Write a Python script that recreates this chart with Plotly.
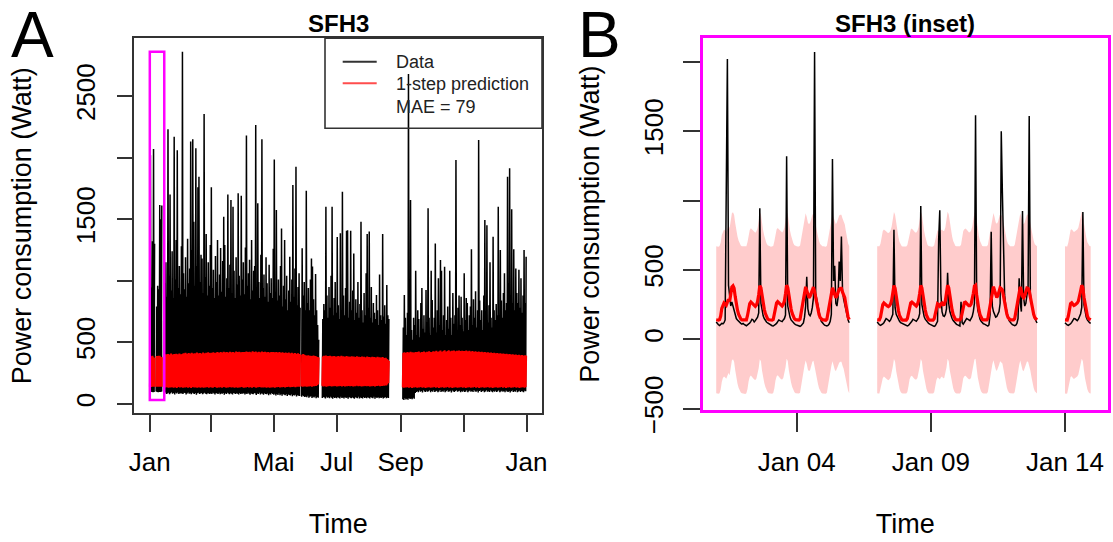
import numpy as np
import pandas as pd
import plotly.graph_objects as go

# ---------------------------------------------------------------------------
# Data
# ---------------------------------------------------------------------------

# Inset window (1-14 Jan 2014): hourly load and 1-step predictions in W.
# A row of None is a day without measurements.
inset_start = "2014-01-01"
inset_load = [
    [125, 110, 105, 100, 108, 115, 112, 120, 140, 1140, 2020, 390, 300, 240, 270, 240, 195, 170, 150, 140, 130, 120, 115, 110],   # 01
    [115, 108, 100, 98, 104, 110, 118, 130, 145, 140, 125, 135, 150, 160, 190, 944, 260, 200, 170, 150, 135, 125, 118, 112],      # 02
    [110, 104, 98, 96, 100, 108, 115, 128, 140, 135, 130, 128, 140, 150, 175, 1320, 240, 190, 160, 140, 128, 120, 112, 106],      # 03
    [104, 100, 95, 94, 98, 106, 118, 160, 240, 450, 220, 180, 170, 190, 230, 300, 2070, 330, 280, 230, 190, 160, 130, 115],       # 04
    [110, 102, 98, 96, 100, 110, 130, 180, 1300, 420, 530, 260, 240, 300, 560, 420, 740, 350, 290, 250, 220, 180, 140, 120],      # 05
    None,                                                                                                                         # 06
    [125, 112, 105, 100, 104, 112, 120, 135, 150, 145, 135, 130, 140, 155, 180, 790, 230, 180, 160, 145, 130, 120, 115, 110],     # 07
    [108, 102, 98, 96, 100, 108, 118, 130, 145, 140, 132, 130, 142, 155, 185, 960, 250, 195, 165, 145, 132, 122, 115, 110],       # 08
    [106, 100, 96, 94, 98, 110, 130, 720, 930, 330, 200, 170, 165, 180, 220, 480, 260, 200, 170, 150, 135, 125, 115, 108],        # 09
    [104, 98, 96, 270, 120, 110, 125, 140, 150, 145, 138, 135, 150, 165, 200, 260, 1615, 300, 210, 170, 145, 130, 120, 112],      # 10
    [110, 104, 98, 96, 104, 180, 775, 240, 200, 170, 160, 165, 180, 200, 260, 1500, 1060, 650, 320, 240, 190, 160, 135, 120],     # 11
    [115, 106, 100, 98, 102, 115, 150, 440, 260, 200, 925, 300, 240, 260, 320, 380, 1610, 330, 260, 210, 175, 150, 130, 118],     # 12
    None,                                                                                                                         # 13
    [120, 110, 104, 100, 104, 112, 122, 135, 150, 148, 140, 135, 145, 160, 185, 230, 917, 250, 190, 160, 140, 128, 120, 115],     # 14
]
inset_pred = [
    [141, 139, 138, 142, 168, 222, 252, 262, 255, 246, 268, 288, 272, 318, 378, 386, 368, 308, 252, 212, 182, 160, 147, 141],
    [140, 138, 137, 141, 172, 228, 258, 270, 262, 250, 240, 238, 248, 272, 322, 386, 372, 304, 254, 216, 186, 162, 148, 141],
    [140, 138, 138, 143, 176, 232, 262, 272, 264, 251, 242, 240, 252, 276, 328, 390, 374, 306, 255, 218, 187, 163, 148, 142],
    [141, 139, 139, 146, 190, 248, 292, 342, 378, 352, 312, 300, 310, 338, 368, 376, 344, 298, 252, 210, 178, 157, 145, 140],
    [140, 138, 138, 145, 188, 246, 290, 338, 372, 350, 312, 300, 314, 340, 362, 368, 368, 340, 318, 300, 250, 198, 160, 142],
    None,
    [141, 139, 140, 160, 205, 250, 262, 258, 248, 240, 236, 242, 256, 284, 335, 388, 368, 300, 248, 208, 172, 150, 141, 139],
    [140, 138, 139, 150, 192, 242, 262, 268, 260, 248, 240, 240, 252, 280, 330, 389, 371, 302, 250, 211, 176, 152, 142, 139],
    [140, 138, 139, 148, 188, 238, 256, 250, 240, 256, 262, 250, 252, 278, 328, 390, 372, 304, 252, 212, 178, 154, 143, 140],
    [140, 139, 140, 152, 200, 250, 264, 268, 262, 250, 242, 242, 254, 282, 330, 384, 390, 320, 256, 214, 178, 154, 143, 140],
    [141, 139, 140, 150, 196, 252, 298, 348, 380, 352, 314, 302, 316, 346, 372, 366, 356, 312, 262, 218, 182, 158, 146, 141],
    [141, 139, 140, 149, 192, 250, 296, 344, 378, 350, 310, 300, 314, 344, 370, 368, 350, 306, 258, 214, 180, 156, 145, 140],
    None,
    [140, 138, 139, 168, 222, 258, 264, 252, 244, 248, 254, 262, 276, 306, 350, 390, 372, 304, 246, 205, 170, 150, 142, 140],
]
PI_HALF_WIDTH = 530   # half-width of the prediction interval, W
MAE = 79

# Rest of the year (15 Jan - 31 Dec 2014): daily extremes in W, None = no data.
year_start = "2014-01-15"
daily_peak = [
    980, 1150, 870, 2230, 1040, 1700, 920, 1240, 860, 2170, 1010, 1330, 2060, 940, 1120, 890, 1280,                    # Jan
    2860, 1060, 930, 1190, 870, 1340, 980, 1100, 2130, 1250, 2150, 1480, 960, 2075, 1120, 1760, 1845, 990, 1210,
    1180, 900, 2355, 1030, 1380, 880, 1150, 960, 1290,                                                                  # Feb
    1760, 940, 1090, 860, 1200, 990, 1330, 880, 1050, 1265, 910, 1160, 1520, 1290, 870, 1020, 1700, 940, 1130, 1655,
    900, 1600, 1080, 860, 1190, 970, 1710, 1040, 880, 1690, 1010,                                                       # Mar
    1150, 890, 1270, 2180, 960, 1060, 1170, 850, 1330, 920, 1080, 1120, 2265, 880, 1630, 990, 860, 1210, 2150, 940,
    1050, 870, 1190, 980, 830, 1130, 900, 1020, 860, 1260,                                                              # Apr
    1985, 910, 1575, 840, 1010, 880, 1120, 1425, 790, 960, 1330, 850, 1040, 760, 920, 1195, 830, 1010, 1777, 870,
    1100, 1926, 800, 950, 1060, 780, None, 1263, 880, 990, 760,                                                         # May
    1730, 820, 940, 760, 1010, 1180, 1115, 850, 720, 1054, 760, 640, 520, None, None, None, 690, 810, 760, 1600,
    880, 700, 950, 780, 1040, 1600, 720, 860, 990, 740,                                                                 # Jun
    1355, 800, 690, 1385, 760, 1723, 880, 720, 940, 1405, 1410, 700, 830, 1405, 760, 920, 1222, 680, 850, 740,
    990, 700, 810, 1480, 760, 660, 900, 720, 1060, 1380, 780,                                                           # Jul
    1400, 700, 950, 660, 820, 740, 690, 885, 760, 640, 1050, 720, 680, 1380, 710, 800, 650, 965, 720, 690,
    None, None, None, None, None, None, None, None, None, None, None,                                                   # Aug
    None, None, 620, 885, 700, 560, 740, 2680, 820, 1655, 600, 520, 700, 640, 1080, 560, 760, 690, 540, 820,
    940, 610, 720, 580, 925, 660, 1588, 700, 560, 1080,                                                                 # Sep
    843, 620, 700, 1303, 580, 760, 1020, 640, 1168, 1080, 600, 720, 1114, 560, 680, 790, 610, 1080, 700, 560,
    900, 650, 720, 1980, 600, 780, 880, 640, 870, 700, 590,                                                             # Oct
    1060, 680, 860, 820, 600, 720, 790, 1255, 640, 850, 700, 915, 620, 760, 2143, 840, 680, 760, 600, 880,
    1493, 720, 1450, 660, 800, 1150, 700, 620, 1357, 760,                                                               # Nov
    680, 810, 720, 1601, 660, 1250, 840, 700, 900, 1060, 760, 820, 1845, 980, 1913, 880, 1580, 820, 1255, 760,
    1100, 900, 820, 1090, 780, 1020, 740, 880, 1250, 820, 1195,                                                         # Dec
]
daily_low = [
    88, 92, 80, 85, 90, 78, 86, 94, 82, 88, 76, 90, 84, 92, 80, 87, 83,
    85, 79, 90, 88, 76, 84, 92, 81, 87, 78, 90, 85, 80, 88, 74, 86, 91, 79, 84, 88, 77, 85, 90, 82, 78, 87, 84, 80,
    86, 79, 90, 83, 76, 88, 84, 80, 91, 77, 85, 82, 88, 74, 86, 80, 90, 83, 78, 87, 81, 76, 89, 84, 79, 86, 82, 75,
    88, 80, 84,
    81, 88, 76, 84, 79, 90, 82, 74, 86, 80, 77, 88, 83, 72, 85, 79, 90, 76, 84, 81, 73, 87, 80, 78, 85, 70, 82, 76,
    88, 79,
    74, 82, 68, 79, 72, 85, 70, 77, 66, 80, 73, 69, 78, 64, 75, 71, 67, 76, 62, 72, 68, 74, 60, 70, 66, 63, None,
    58, 67, 62, 55,
    60, 54, 65, 50, 58, 62, 48, 57, 52, 60, 46, 55, 50, None, None, None, 47, 56, 51, 44, 58, 49, 53, 45, 57, 50,
    42, 54, 48, 52,
    46, 55, 50, 43, 58, 48, 52, 44, 56, 47, 51, 42, 55, 49, 45, 53, 48, 41, 54, 50, 46, 57, 44, 52, 48, 43, 55, 47,
    51, 45, 53,
    49, 44, 56, 50, 46, 58, 42, 53, 48, 55, 45, 51, 47, 54, 43, 50, 56, 46, 52, 48,
    None, None, None, None, None, None, None, None, None, None, None,
    None, None, 38, 32, 45, 36, 41, 34, 48, 39, 44, 37, 50, 42, 88, 96, 102, 94, 108, 99, 104, 92, 110, 100, 96,
    106, 98, 103, 111, 95,
    104, 98, 110, 96, 102, 107, 94, 100, 112, 97, 105, 99, 108, 95, 103, 110, 98, 101, 106, 93, 109, 100, 96, 104,
    111, 98, 102, 107, 95, 103, 99,
    106, 97, 101, 110, 94, 103, 108, 99, 105, 96, 112, 100, 98, 107, 93, 104, 109, 97, 102, 106, 95, 101, 110, 98,
    103, 96, 108, 100, 94, 105,
    99, 107, 96, 103, 110, 94, 101, 106, 98, 104, 95, 109, 100, 97, 105, 93, 102, 108, 96, 103, 99, 110, 94, 101,
    106, 97, 104, 100, 95, 107, 102,
]
pred_high = [
    396, 402, 398, 405, 400, 394, 408, 401, 397, 404, 399, 406, 402, 395, 409, 403, 398,
    405, 410, 402, 414, 407, 400, 412, 408, 404, 415, 409, 403, 411, 406, 417, 410, 404, 413, 408, 402, 416, 411,
    405, 414, 409, 418, 412, 407,
    415, 410, 419, 413, 408, 417, 422, 414, 409, 420, 416, 411, 423, 418, 412, 421, 416, 410, 424, 419, 413, 422,
    417, 411, 425, 420, 414, 423, 418, 412, 421,
    417, 422, 415, 426, 420, 414, 424, 419, 413, 427, 421, 416, 425, 418, 412, 423, 419, 414, 426, 420, 415, 424,
    418, 413, 422, 417, 411, 421, 416, 420,
    418, 412, 422, 416, 410, 420, 414, 409, 419, 413, 408, 417, 412, 406, 416, 410, 405, 414, 409, 403, 412, 407,
    401, 410, 405, 400, None, 398, 404, 399, 394,
    392, 388, 395, 386, 390, 384, 389, 393, 385, 388, 382, 380, 376, None, None, None, 384, 390, 386, 392, 383, 388,
    385, 391, 380, 387, 383, 389, 378, 385,
    382, 388, 379, 385, 390, 381, 386, 377, 383, 389, 380, 385, 376, 382, 387, 379, 384, 375, 381, 386, 378, 383,
    374, 380, 385, 377, 382, 373, 379, 384, 376,
    381, 372, 378, 383, 375, 380, 371, 377, 382, 374, 379, 370, 376, 381, 372, 368, 374, 365, 358, 348,
    None, None, None, None, None, None, None, None, None, None, None,
    None, None, 412, 418, 408, 415, 420, 411, 417, 423, 413, 419, 410, 416, 422, 414, 420, 425, 417, 412, 421, 416,
    426, 419, 413, 424, 418, 427, 420, 415,
    422, 428, 419, 425, 431, 423, 418, 427, 433, 424, 420, 429, 435, 426, 421, 430, 436, 427, 422, 431, 425, 433,
    428, 423, 432, 426, 434, 429, 424, 431, 427,
    430, 425, 433, 428, 422, 431, 426, 420, 429, 424, 418, 427, 422, 416, 425, 420, 414, 423, 418, 412, 421, 416,
    410, 419, 414, 408, 417, 412, 406, 415,
    410, 404, 413, 408, 402, 411, 406, 400, 409, 404, 398, 407, 402, 396, 405, 400, 394, 403, 398, 392, 401, 396,
    390, 399, 394, 388, 397, 392, 386, 395, 390,
]
pred_low = [
    136, 132, 139, 134, 130, 137, 133, 140, 135, 131, 138, 134, 129, 136, 141, 133, 137,
    134, 130, 137, 133, 139, 135, 131, 138, 134, 129, 136, 140, 132, 137, 133, 130, 138, 135, 131, 139, 134, 130,
    137, 133, 140, 136, 131, 135,
    138, 133, 130, 136, 141, 134, 131, 137, 133, 139, 135, 130, 136, 142, 134, 131, 138, 133, 140, 136, 132, 137,
    134, 130, 139, 135, 131, 138, 133, 136, 141,
    134, 131, 137, 133, 140, 136, 132, 138, 134, 130, 137, 141, 135, 131, 138, 134, 139, 136, 132, 137, 133, 140,
    135, 131, 138, 134, 130, 137, 133, 139,
    135, 131, 138, 134, 140, 136, 132, 139, 135, 141, 137, 133, 140, 136, 142, 138, 134, 141, 137, 143, 139, 135,
    142, 138, 144, 140, None, 143, 139, 145, 141,
    144, 140, 146, 142, 148, 144, 140, 147, 143, 149, 145, 152, 158, None, None, None, 146, 142, 148, 144, 140, 147,
    143, 149, 145, 141, 148, 144, 150, 146,
    142, 148, 144, 150, 146, 142, 149, 145, 141, 148, 144, 150, 146, 143, 149, 145, 141, 148, 144, 151, 147, 143,
    149, 145, 142, 148, 144, 150, 146, 143, 149,
    145, 141, 148, 144, 150, 146, 142, 149, 145, 151, 147, 143, 150, 146, 152, 148, 155, 150, 158, 170,
    None, None, None, None, None, None, None, None, None, None, None,
    None, None, 134, 130, 137, 133, 139, 135, 131, 138, 134, 129, 136, 132, 139, 135, 130, 137, 133, 140, 136, 131,
    138, 134, 129, 136, 132, 139, 135, 130,
    137, 133, 140, 136, 131, 138, 134, 129, 136, 132, 139, 135, 130, 137, 133, 140, 136, 131, 138, 134, 129, 136,
    132, 139, 135, 130, 137, 133, 140, 136, 131,
    138, 134, 129, 136, 132, 139, 135, 130, 137, 133, 140, 136, 131, 138, 134, 129, 136, 132, 139, 135, 130, 137,
    133, 140, 136, 131, 138, 134, 129, 136,
    132, 139, 135, 130, 137, 133, 140, 136, 131, 138, 134, 129, 136, 132, 139, 135, 130, 137, 133, 140, 136, 131,
    138, 134, 129, 136, 132, 139, 135, 130, 137,
]

# Axis ticks and labels
year_ticks = ["2014-01-01", "2014-03-01", "2014-05-01", "2014-07-01", "2014-09-01", "2014-11-01", "2015-01-01"]
year_tick_text = ["Jan", "", "Mai", "Jul", "Sep", "", "Jan"]
year_y_ticks = [0, 500, 1000, 1500, 2000, 2500]
year_y_text = ["0", "500", "", "1500", "", "2500"]
inset_ticks = ["2014-01-04", "2014-01-09", "2014-01-14"]
inset_tick_text = ["Jan 04", "Jan 09", "Jan 14"]
inset_y_ticks = [-500, 0, 500, 1000, 1500, 2000]
inset_y_text = ["\u2212500", "0", "500", "", "1500", ""]

assert len(daily_peak) == len(daily_low) == len(pred_high) == len(pred_low) == 351

# ---------------------------------------------------------------------------
# Series assembly
# ---------------------------------------------------------------------------
nan = np.nan


def as_float(seq):
    return np.array([nan if v is None else v for v in seq], dtype=float)


inset_days = pd.date_range(inset_start, periods=len(inset_load), freq="D")
load_rows = [as_float(r) if r is not None else np.full(24, nan) for r in inset_load]
pred_rows = [as_float(r) if r is not None else np.full(24, nan) for r in inset_pred]
hour_x = pd.date_range(inset_start, periods=24 * len(inset_load), freq="h")
load_h = np.concatenate(load_rows)
pred_h = np.concatenate(pred_rows)


def day_extreme(rows, fn):
    return [nan if np.isnan(r).all() else float(fn(r)) for r in rows]


# full-year daily extremes: inset days aggregated from the hourly values
all_days = list(inset_days) + list(pd.date_range(year_start, periods=len(daily_peak), freq="D"))
load_lo = np.concatenate([day_extreme(load_rows, np.nanmin), as_float(daily_low)])
load_hi = np.concatenate([day_extreme(load_rows, np.nanmax), as_float(daily_peak)])
pred_lo = np.concatenate([day_extreme(pred_rows, np.nanmin), as_float(pred_low)])
pred_hi = np.concatenate([day_extreme(pred_rows, np.nanmax), as_float(pred_high)])


def zigzag(lo, hi, h_lo, h_hi):
    xs, ys = [], []
    for day, a, b in zip(all_days, lo, hi):
        xs += [day + pd.Timedelta(hours=h_lo), day + pd.Timedelta(hours=h_hi)]
        ys += [a, b]
    return xs, ys


ax_load_x, ax_load_y = zigzag(load_lo, load_hi, 4, 15)
ax_pred_x, ax_pred_y = zigzag(pred_lo, pred_hi, 3, 15)

# ---------------------------------------------------------------------------
# Figure geometry (pixels of a 1113 x 542 canvas)
# ---------------------------------------------------------------------------
W, H = 1113, 542
FONT = "Liberation Sans, Arial, Helvetica, sans-serif"
FRAME = "#333333"


def fx(p):
    return p / W


def fy(p):
    return 1 - p / H


fig = go.Figure()

# Panel A -------------------------------------------------------------------
fig.add_trace(go.Scatter(x=ax_load_x, y=ax_load_y, mode="lines",
                         line=dict(color="black", width=1.5), xaxis="x", yaxis="y",
                         hoverinfo="skip", showlegend=False))
fig.add_trace(go.Scatter(x=ax_pred_x, y=ax_pred_y, mode="lines",
                         line=dict(color="#ff0000", width=2), xaxis="x", yaxis="y",
                         hoverinfo="skip", showlegend=False))

# Panel B: prediction interval, data, prediction -------------------------------
upper = pred_h + PI_HALF_WIDTH
lower = pred_h - PI_HALF_WIDTH
valid = ~np.isnan(pred_h)
idx = np.arange(len(pred_h))
segments = np.split(idx[valid], np.where(np.diff(idx[valid]) > 1)[0] + 1)
for seg in segments:
    xs = list(hour_x[seg]) + list(hour_x[seg][::-1])
    ys = list(upper[seg]) + list(lower[seg][::-1])
    fig.add_trace(go.Scatter(x=xs, y=ys, mode="lines", fill="toself",
                             fillcolor="rgba(255,0,0,0.2)", line=dict(width=0),
                             xaxis="x2", yaxis="y2", hoverinfo="skip", showlegend=False))

fig.add_trace(go.Scatter(x=hour_x, y=load_h, mode="lines",
                         line=dict(color="black", width=1.5), xaxis="x2", yaxis="y2",
                         hoverinfo="skip", showlegend=False))
fig.add_trace(go.Scatter(x=hour_x, y=pred_h, mode="lines",
                         line=dict(color="#ff0000", width=3.2), xaxis="x2", yaxis="y2",
                         hoverinfo="skip", showlegend=False))

tick_font = dict(family=FONT, size=26, color="black")
title_font = dict(family=FONT, size=27, color="black")

common = dict(showgrid=False, zeroline=False, showline=True, mirror=True,
              ticks="outside", tickfont=tick_font, automargin=False)

fig.update_layout(
    width=W, height=H, autosize=False,
    margin=dict(l=0, r=0, t=0, b=0),
    paper_bgcolor="white", plot_bgcolor="white",
    showlegend=False,
    xaxis=dict(domain=[fx(134.4), fx(542)], anchor="y", type="date",
               range=["2013-12-17 02:00", "2015-01-16 00:00"],
               tickmode="array", tickvals=year_ticks, ticktext=year_tick_text,
               ticklen=17, tickwidth=1.6, tickcolor=FRAME, linecolor=FRAME, linewidth=1.6,
               ticklabelstandoff=8,
               title=dict(text="Time", font=title_font, standoff=38), **common),
    yaxis=dict(domain=[fy(413.2), fy(38.3)], anchor="x",
               range=[-76, 2969],
               tickmode="array", tickvals=year_y_ticks, ticktext=year_y_text, tickangle=-90,
               ticklen=16, tickwidth=1.6, tickcolor=FRAME, linecolor=FRAME, linewidth=1.6,
               ticklabelstandoff=11,
               title=dict(text="Power consumption (Watt)", font=title_font, standoff=32), **common),
    xaxis2=dict(domain=[fx(702.7), fx(1107.7)], anchor="y2", type="date",
                range=["2013-12-31 11:55", "2014-01-15 14:13"],
                tickmode="array", tickvals=inset_ticks, ticktext=inset_tick_text,
                ticklen=19, tickwidth=1.6, tickcolor=FRAME, linecolor="#ff00ff", linewidth=3,
                ticklabelstandoff=8,
                title=dict(text="Time", font=title_font, standoff=38), **common),
    yaxis2=dict(domain=[fy(410), fy(38.3)], anchor="x2",
                range=[-509, 2169],
                tickmode="array", tickvals=inset_y_ticks, ticktext=inset_y_text, tickangle=-90,
                ticklen=17, tickwidth=1.6, tickcolor=FRAME, linecolor="#ff00ff", linewidth=3,
                ticklabelstandoff=9,
                title=dict(text="Power consumption (Watt)", font=title_font, standoff=32), **common),
)

# Inset window marked on panel A (data coordinates)
fig.add_shape(type="rect", xref="x", yref="y",
              x0=inset_days[0], x1=inset_days[-1] + pd.Timedelta(days=1),
              y0=float(np.nanmin(load_lo)), y1=float(np.nanmax(load_hi)),
              line=dict(color="#ff00ff", width=2.5), fillcolor="rgba(0,0,0,0)")

# Legend of panel A
fig.add_shape(type="rect", xref="paper", yref="paper",
              x0=fx(325), x1=fx(542), y0=fy(128.3), y1=fy(38.3),
              line=dict(color=FRAME, width=1.6), fillcolor="rgba(0,0,0,0)")
fig.add_shape(type="line", xref="paper", yref="paper",
              x0=fx(342.7), x1=fx(376.7), y0=fy(61.7), y1=fy(61.7),
              line=dict(color="#333333", width=2))
fig.add_shape(type="line", xref="paper", yref="paper",
              x0=fx(342.7), x1=fx(376.7), y0=fy(83.3), y1=fy(83.3),
              line=dict(color="#ff4d4d", width=2))

legend_font = dict(family=FONT, size=18, color="#222222")
for text, ypix in [("Data", 61.7), ("1-step prediction", 84.0), (f"MAE = {MAE}", 106.7)]:
    fig.add_annotation(text=text, xref="paper", yref="paper", x=fx(394), y=fy(ypix),
                       xanchor="left", yanchor="middle", showarrow=False, font=legend_font)

# Panel titles and letters
title_main = dict(family=FONT, size=24, color="black")
fig.add_annotation(text="<b>SFH3</b>", xref="paper", yref="paper", x=fx(338.2), y=fy(23.5),
                   xanchor="center", yanchor="middle", showarrow=False, font=title_main)
fig.add_annotation(text="<b>SFH3 (inset)</b>", xref="paper", yref="paper", x=fx(905.2), y=fy(23.5),
                   xanchor="center", yanchor="middle", showarrow=False, font=title_main)
letter_font = dict(family=FONT, size=64, color="black")
fig.add_annotation(text="A", xref="paper", yref="paper", x=fx(32.5), y=fy(35),
                   xanchor="center", yanchor="middle", showarrow=False, font=letter_font)
fig.add_annotation(text="B", xref="paper", yref="paper", x=fx(599), y=fy(35),
                   xanchor="center", yanchor="middle", showarrow=False, font=letter_font)

fig.write_html("out.html")
